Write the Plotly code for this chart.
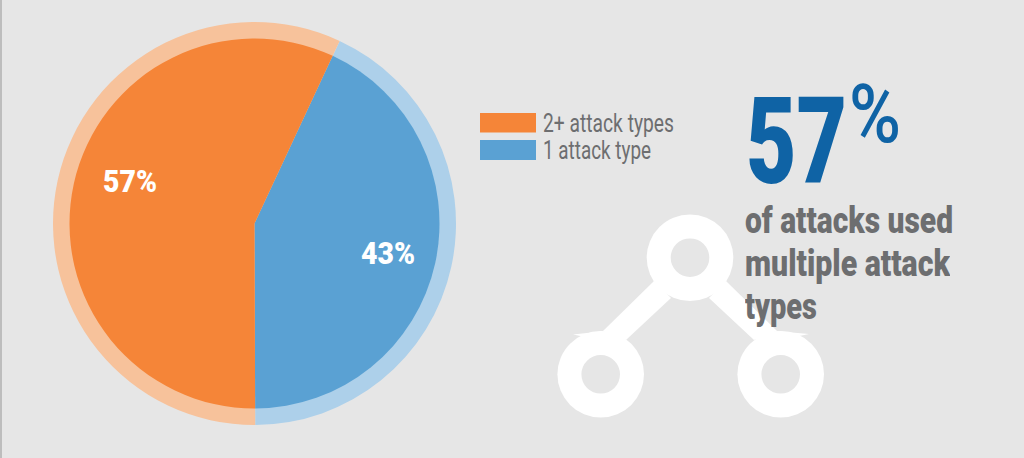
import plotly.graph_objects as go

W = 1024
H = 458

labels = ['1 attack type', '2+ attack types']
values = [43, 57]
colors = ['#5AA1D3', '#F58538']
rim_colors = ['#ADD0EA', '#F7C29B']
legend_order = ['2+ attack types', '1 attack type']
big_number = '57'
caption = ['of attacks used', 'multiple attack', 'types']
caption_widths = [208, 205, 72]

GREY = '#6D6E70'
BLUE = '#0F63A5'
FONT = 'Roboto'


def px(x):
    return x / W


def py(y):
    return 1 - y / H


def pie_domain(cx, cy, r):
    return dict(x=[px(cx - r), px(cx + r)], y=[py(cy + r), py(cy - r)])


def circle(cx, cy, r, color):
    return dict(type='circle', xref='paper', yref='paper', x0=px(cx - r), x1=px(cx + r),
                y0=py(cy + r), y1=py(cy - r), fillcolor=color, line_width=0)


def poly(points, color):
    path = 'M ' + ' L '.join('%.5f,%.5f' % (px(a), py(b)) for a, b in points) + ' Z'
    return dict(type='path', xref='paper', yref='paper', path=path, fillcolor=color, line_width=0)


def label(text, x, y, size, color, width, weight=400):
    return dict(text=text, x=px(x), y=py(y), xref='paper', yref='paper', xanchor='left', yanchor='middle',
                showarrow=False, borderpad=0, align='left', width=width,
                font=dict(family=FONT, size=size, color=color, weight=weight))


fig = go.Figure()
for cols, r in [(rim_colors, 201.5), (colors, 185)]:
    fig.add_trace(go.Pie(labels=labels, values=values, sort=False, direction='clockwise', rotation=25,
                         marker=dict(colors=cols, line=dict(width=0)), textinfo='none',
                         hoverinfo='label+percent', showlegend=False,
                         domain=pie_domain(254.5, 223.5, r)))

shapes = [
    dict(type='rect', xref='paper', yref='paper', x0=0, x1=px(2), y0=0, y1=1, fillcolor='#BDBDBD', line_width=0),
    dict(type='rect', xref='paper', yref='paper', x0=px(480), x1=px(536), y0=py(132.5), y1=py(113),
         fillcolor=colors[1], line_width=0),
    dict(type='rect', xref='paper', yref='paper', x0=px(480), x1=px(536), y0=py(160), y1=py(140),
         fillcolor=colors[0], line_width=0),
    # network icon
    poly([(654, 281), (671, 298), (626, 340), (603, 331)], 'white'),
    poly([(726, 281), (709, 298), (754, 340), (777, 331)], 'white'),
    poly([(573, 334.5), (605, 331), (600, 340)], 'white'),
    poly([(809, 334), (775, 331), (780, 340)], 'white'),
    circle(690, 257.7, 43.3, 'white'),
    circle(600.7, 374.3, 43.3, 'white'),
    circle(780.7, 374.3, 43.3, 'white'),
    circle(690, 257.7, 19.3, '#E6E6E6'),
    circle(600.7, 374.3, 19.3, '#E6E6E6'),
    circle(780.7, 374.3, 19.3, '#E6E6E6'),
]

# the originals are set in a condensed face, each text gets squeezed to its measured width
annotations = [
    label('%d%%' % values[1], 102, 182, 31, 'white', 54, 900),
    label('%d%%' % values[0], 360, 254, 31, 'white', 54, 900),
    label(legend_order[0], 542, 124, 25, GREY, 131),
    label(legend_order[1], 542, 151, 25, GREY, 108),
    label(big_number, 745, 142, 120, BLUE, 101, 900),
    label('%', 848, 114, 82, BLUE, 52, 500),
]
for line, y, w in zip(caption, [221, 264, 307], caption_widths):
    annotations.append(label(line, 744, y, 36, GREY, w, 900))
text_widths = [a['width'] for a in annotations]

fig.update_layout(width=W, height=H, margin=dict(l=0, r=0, t=0, b=0), autosize=False,
                  paper_bgcolor='#E6E6E6', plot_bgcolor='#E6E6E6', showlegend=False,
                  shapes=shapes, annotations=annotations)

squeeze = """
document.body.style.margin='0';
document.body.style.background='#E6E6E6';
var widths = %s;
document.querySelectorAll('.annotation-text').forEach(function(t, i) {
    t.setAttribute('textLength', widths[i]);
    t.setAttribute('lengthAdjust', 'spacingAndGlyphs');
});
""" % text_widths

fig.write_html('out.html', post_script=squeeze, config=dict(displayModeBar=False))
